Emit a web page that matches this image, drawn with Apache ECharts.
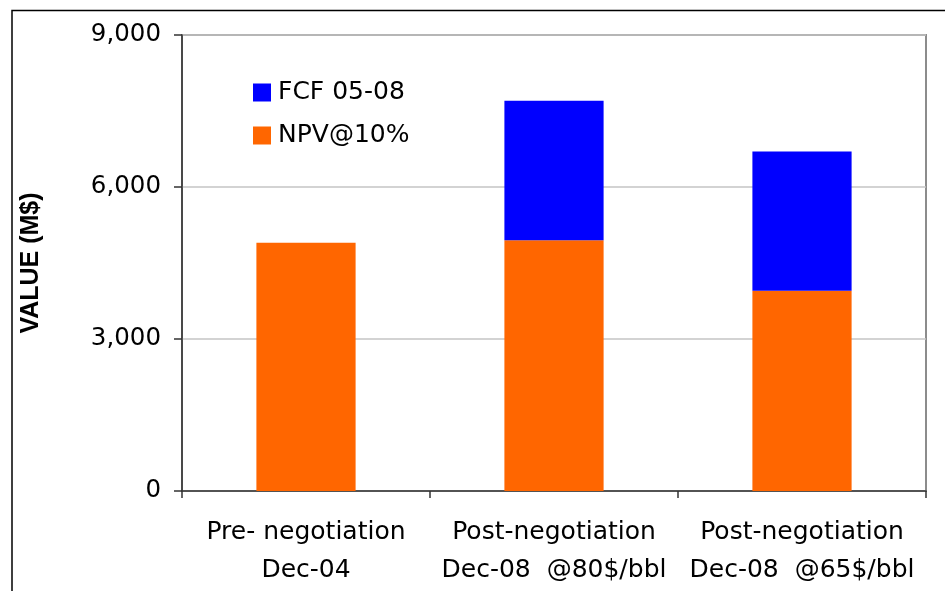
<!DOCTYPE html>
<html>
<head>
<meta charset="utf-8">
<script src="https://cdn.jsdelivr.net/npm/echarts@6/dist/echarts.min.js"></script>
<style>
html,body{margin:0;padding:0;background:#fff;}
#chart{width:945px;height:591px;}
</style>
</head>
<body>
<div id="chart"></div>
<script>
var categories = ['Pre- negotiation\nDec-04', 'Post-negotiation\nDec-08  @80$/bbl', 'Post-negotiation\nDec-08  @65$/bbl'];
var npvValues = [4900, 4950, 3950];
var fcfValues = [null, 2750, 2750];
var yTicks = [0, 3000, 6000, 9000];
var seriesNames = ['NPV@10%', 'FCF 05-08'];

var chart = echarts.init(document.getElementById('chart'));
var txtFont = 'DejaVu Sans';
chart.setOption({
  animation: false,
  backgroundColor: '#ffffff',
  grid: { left: 182, right: 19, top: 35, bottom: 100, show: true, borderColor: '#8c8c8c', borderWidth: 2, backgroundColor: 'transparent' },
  legend: {
    data: [seriesNames[1], seriesNames[0]],
    orient: 'vertical', left: 253, top: 80, padding: 0,
    itemWidth: 18, itemHeight: 18, itemGap: 18, icon: 'rect',
    textStyle: { fontFamily: txtFont, fontSize: 25, color: '#000', lineHeight: 18, padding: [0, 0, 0, 2] },
    selectedMode: false
  },
  xAxis: {
    type: 'category', data: categories,
    axisLine: { lineStyle: { color: '#333', width: 1.5 } },
    axisTick: { show: true, length: 7, lineStyle: { color: '#333', width: 1.5 } },
    axisLabel: { fontFamily: txtFont, fontSize: 25, color: '#000', lineHeight: 38, margin: 22, interval: 0 }
  },
  yAxis: {
    type: 'value', min: 0, max: 9000, interval: 3000,
    name: 'VALUE (M$)', nameLocation: 'middle', nameGap: 138,
    nameTextStyle: { fontFamily: 'Liberation Sans', fontWeight: 'bold', fontSize: 25, color: '#000', padding: [0, 0, 0, 0] },
    axisLine: { show: true, lineStyle: { color: '#333', width: 1.5 } },
    axisTick: { show: true, length: 8, lineStyle: { color: '#333', width: 1.5 } },
    splitLine: { lineStyle: { color: '#c4c4c4', width: 1.5 } },
    axisLabel: { fontFamily: txtFont, fontSize: 24.5, color: '#000', margin: 21,
      formatter: function (v) { return yTicks.indexOf(v) >= 0 ? v.toLocaleString('en-US') : ''; } }
  },
  series: [
    { name: seriesNames[0], type: 'bar', stack: 'v', data: npvValues, barWidth: '40%', itemStyle: { color: '#ff6600' } },
    { name: seriesNames[1], type: 'bar', stack: 'v', data: fcfValues, barWidth: '40%', itemStyle: { color: '#0000ff' } }
  ],
  graphic: [
    { type: 'polyline', shape: { points: [[12, 591], [12, 10.5], [945, 10.5]] }, style: { stroke: '#000', lineWidth: 1.5, fill: null } }
  ]
});
</script>
</body>
</html>
